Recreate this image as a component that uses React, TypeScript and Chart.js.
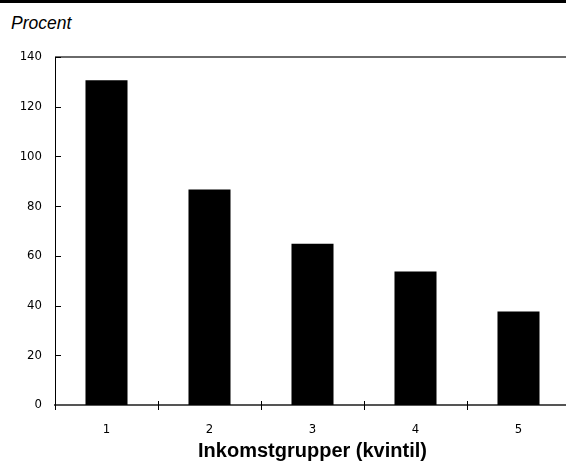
import React, { useEffect, useRef } from "react";
import { Chart, registerables } from "chart.js";

Chart.register(...registerables);

const categories = ["1", "2", "3", "4", "5"];
const values = [130.6, 86.7, 64.9, 53.7, 37.6];
const yTicks = [0, 20, 40, 60, 80, 100, 120, 140];
const yAxisLabel = "Procent";
const xAxisTitle = "Inkomstgrupper (kvintil)";

const tickFont = "'DejaVu Sans Condensed', 'Liberation Sans Narrow', sans-serif";

const framePlugin = {
  id: "framePlugin",
  afterDraw(chart: any) {
    const { ctx, chartArea, scales } = chart;
    const x = scales.x;
    const y = scales.y;
    ctx.save();
    ctx.strokeStyle = "#6a6a6a";
    ctx.lineWidth = 2;
    ctx.beginPath();
    ctx.moveTo(chartArea.left, chartArea.top);
    ctx.lineTo(chartArea.right + 2, chartArea.top);
    ctx.stroke();
    ctx.strokeStyle = "#000";
    ctx.lineWidth = 1;
    y.ticks.forEach((t: any) => {
      if (t.value === 0) return;
      const py = Math.round(y.getPixelForValue(t.value)) + 0.5;
      ctx.beginPath();
      ctx.moveTo(chartArea.left, py);
      ctx.lineTo(chartArea.left + 6, py);
      ctx.stroke();
    });
    const base = y.getPixelForValue(0);
    for (let i = 0; i < categories.length; i++) {
      const px = Math.round(x.getPixelForValue(i - 0.5)) + 0.5;
      ctx.beginPath();
      ctx.moveTo(px, i === 0 ? base : base - 4);
      ctx.lineTo(px, base + 5);
      ctx.stroke();
    }
    ctx.restore();
  },
};

export default function App() {
  const ref = useRef<HTMLCanvasElement>(null);
  useEffect(() => {
    const canvas = ref.current!;
    const chart = new Chart(canvas, {
      type: "bar",
      data: {
        labels: categories,
        datasets: [
          {
            data: values,
            backgroundColor: "#000",
            borderWidth: 0,
            barPercentage: 0.408,
            categoryPercentage: 1,
          },
        ],
      },
      options: {
        responsive: false,
        animation: false,
        devicePixelRatio: 1,
        layout: { padding: { top: 57, right: 2, left: 0, bottom: 0 } },
        plugins: {
          legend: { display: false },
          tooltip: { enabled: false },
          title: { display: false },
        },
        scales: {
          x: {
            grid: { display: false },
            border: { display: true, color: "#555", width: 2 },
            ticks: {
              color: "#000",
              font: { family: tickFont, size: 13 },
              padding: 9,
            },
            title: {
              display: true,
              text: xAxisTitle,
              color: "#000",
              font: { family: "'Liberation Sans', Arial, sans-serif", size: 20, weight: "bold" },
              padding: { top: 0, bottom: 1 },
            },
            afterFit(scale: any) {
              scale.height = 59;
            },
          },
          y: {
            min: 0,
            max: 140,
            grid: { display: false },
            border: { display: true, color: "#000", width: 1 },
            afterBuildTicks(scale: any) {
              scale.ticks = yTicks.map((v) => ({ value: v }));
            },
            ticks: {
              color: "#000",
              font: { family: tickFont, size: 13 },
              padding: 5,
            },
            afterFit(scale: any) {
              scale.width = 55;
            },
          },
        },
      },
      plugins: [framePlugin],
    });
    return () => chart.destroy();
  }, []);

  return (
    <div
      style={{
        position: "fixed",
        left: 0,
        top: 0,
        width: 566,
        height: 464,
        overflow: "hidden",
        background: "#fff",
      }}
    >
      <div style={{ position: "absolute", left: 0, top: 0, width: 566, height: 3, background: "#000" }} />
      <div
        style={{
          position: "absolute",
          left: 11,
          top: 15,
          fontFamily: "'Liberation Sans', Arial, sans-serif",
          fontStyle: "italic",
          fontSize: 17.5,
          lineHeight: 1,
          color: "#000",
          whiteSpace: "nowrap",
        }}
      >
        {yAxisLabel}
      </div>
      <canvas ref={ref} width={572} height={464} style={{ position: "absolute", left: 0, top: 0, width: 572, height: 464 }} />
    </div>
  );
}
